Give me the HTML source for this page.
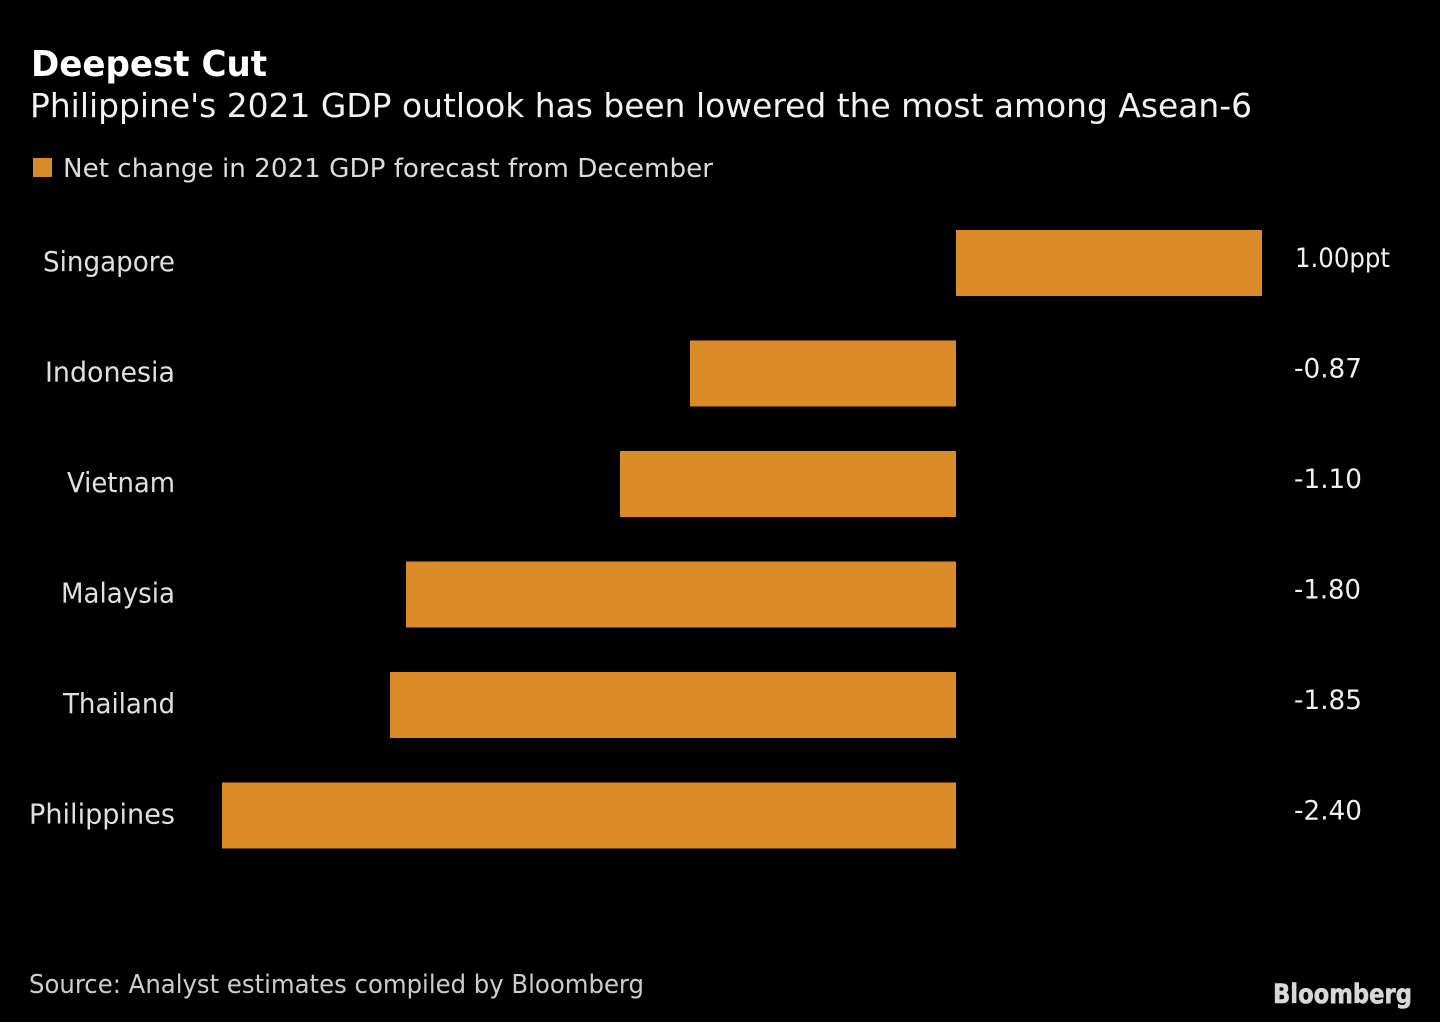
<!DOCTYPE html>
<html>
<head>
<meta charset="utf-8">
<style>
  html, body { margin: 0; padding: 0; background: #000; }
  body { width: 1440px; height: 1022px; overflow: hidden; }
  svg { display: block; }
  text { font-family: "DejaVu Sans", "Liberation Sans", sans-serif; }
</style>
</head>
<body>
<svg width="1440" height="1022" viewBox="0 0 1440 1022" xmlns="http://www.w3.org/2000/svg">
  <rect x="0" y="0" width="1440" height="1022" fill="#000"/>

  <!-- Title -->
  <text x="31" y="76" font-size="36" font-weight="bold" fill="#ffffff" textLength="236" lengthAdjust="spacingAndGlyphs">Deepest Cut</text>
  <text x="30" y="117" font-size="33" fill="#f2f2f2" textLength="1222" lengthAdjust="spacingAndGlyphs">Philippine's 2021 GDP outlook has been lowered the most among Asean-6</text>

  <!-- Legend -->
  <rect x="33" y="158" width="19" height="19" fill="#DA8A27"/>
  <text x="63" y="177" font-size="26" fill="#dcdcdc" textLength="650" lengthAdjust="spacingAndGlyphs">Net change in 2021 GDP forecast from December</text>

  <!-- Bars -->
  <rect x="956" y="230" width="306" height="66" fill="#DA8A27"/>
  <rect x="690" y="340.5" width="266" height="66" fill="#DA8A27"/>
  <rect x="620" y="451" width="336" height="66" fill="#DA8A27"/>
  <rect x="406" y="561.5" width="550" height="66" fill="#DA8A27"/>
  <rect x="390" y="672" width="566" height="66" fill="#DA8A27"/>
  <rect x="222" y="782.5" width="734" height="66" fill="#DA8A27"/>

  <!-- Category labels -->
  <g font-size="28" fill="#e0e0e0">
    <text x="43" y="271" textLength="132" lengthAdjust="spacingAndGlyphs">Singapore</text>
    <text x="45" y="381.5" textLength="130" lengthAdjust="spacingAndGlyphs">Indonesia</text>
    <text x="67" y="492" textLength="108" lengthAdjust="spacingAndGlyphs">Vietnam</text>
    <text x="61" y="602.5" textLength="114" lengthAdjust="spacingAndGlyphs">Malaysia</text>
    <text x="63" y="713" textLength="112" lengthAdjust="spacingAndGlyphs">Thailand</text>
    <text x="29" y="823.5" textLength="146" lengthAdjust="spacingAndGlyphs">Philippines</text>
  </g>

  <!-- Value labels -->
  <g font-size="27" fill="#f0f0f0">
    <text x="1295" y="267" textLength="95" lengthAdjust="spacingAndGlyphs">1.00ppt</text>
    <text x="1294" y="377.5" textLength="68" lengthAdjust="spacingAndGlyphs">-0.87</text>
    <text x="1294" y="488" textLength="68" lengthAdjust="spacingAndGlyphs">-1.10</text>
    <text x="1294" y="598.5" textLength="67" lengthAdjust="spacingAndGlyphs">-1.80</text>
    <text x="1294" y="709" textLength="68" lengthAdjust="spacingAndGlyphs">-1.85</text>
    <text x="1294" y="819.5" textLength="68" lengthAdjust="spacingAndGlyphs">-2.40</text>
  </g>

  <!-- Source -->
  <text x="29" y="993" font-size="26" fill="#cccccc" textLength="615" lengthAdjust="spacingAndGlyphs">Source: Analyst estimates compiled by Bloomberg</text>

  <!-- Bloomberg logo -->
  <text x="1273" y="1003" font-family="Liberation Sans, Arial, sans-serif" font-size="27" font-weight="bold" fill="#d8d8d8" stroke="#d8d8d8" stroke-width="0.6" textLength="139" lengthAdjust="spacingAndGlyphs">Bloomberg</text>
</svg>
</body>
</html>
